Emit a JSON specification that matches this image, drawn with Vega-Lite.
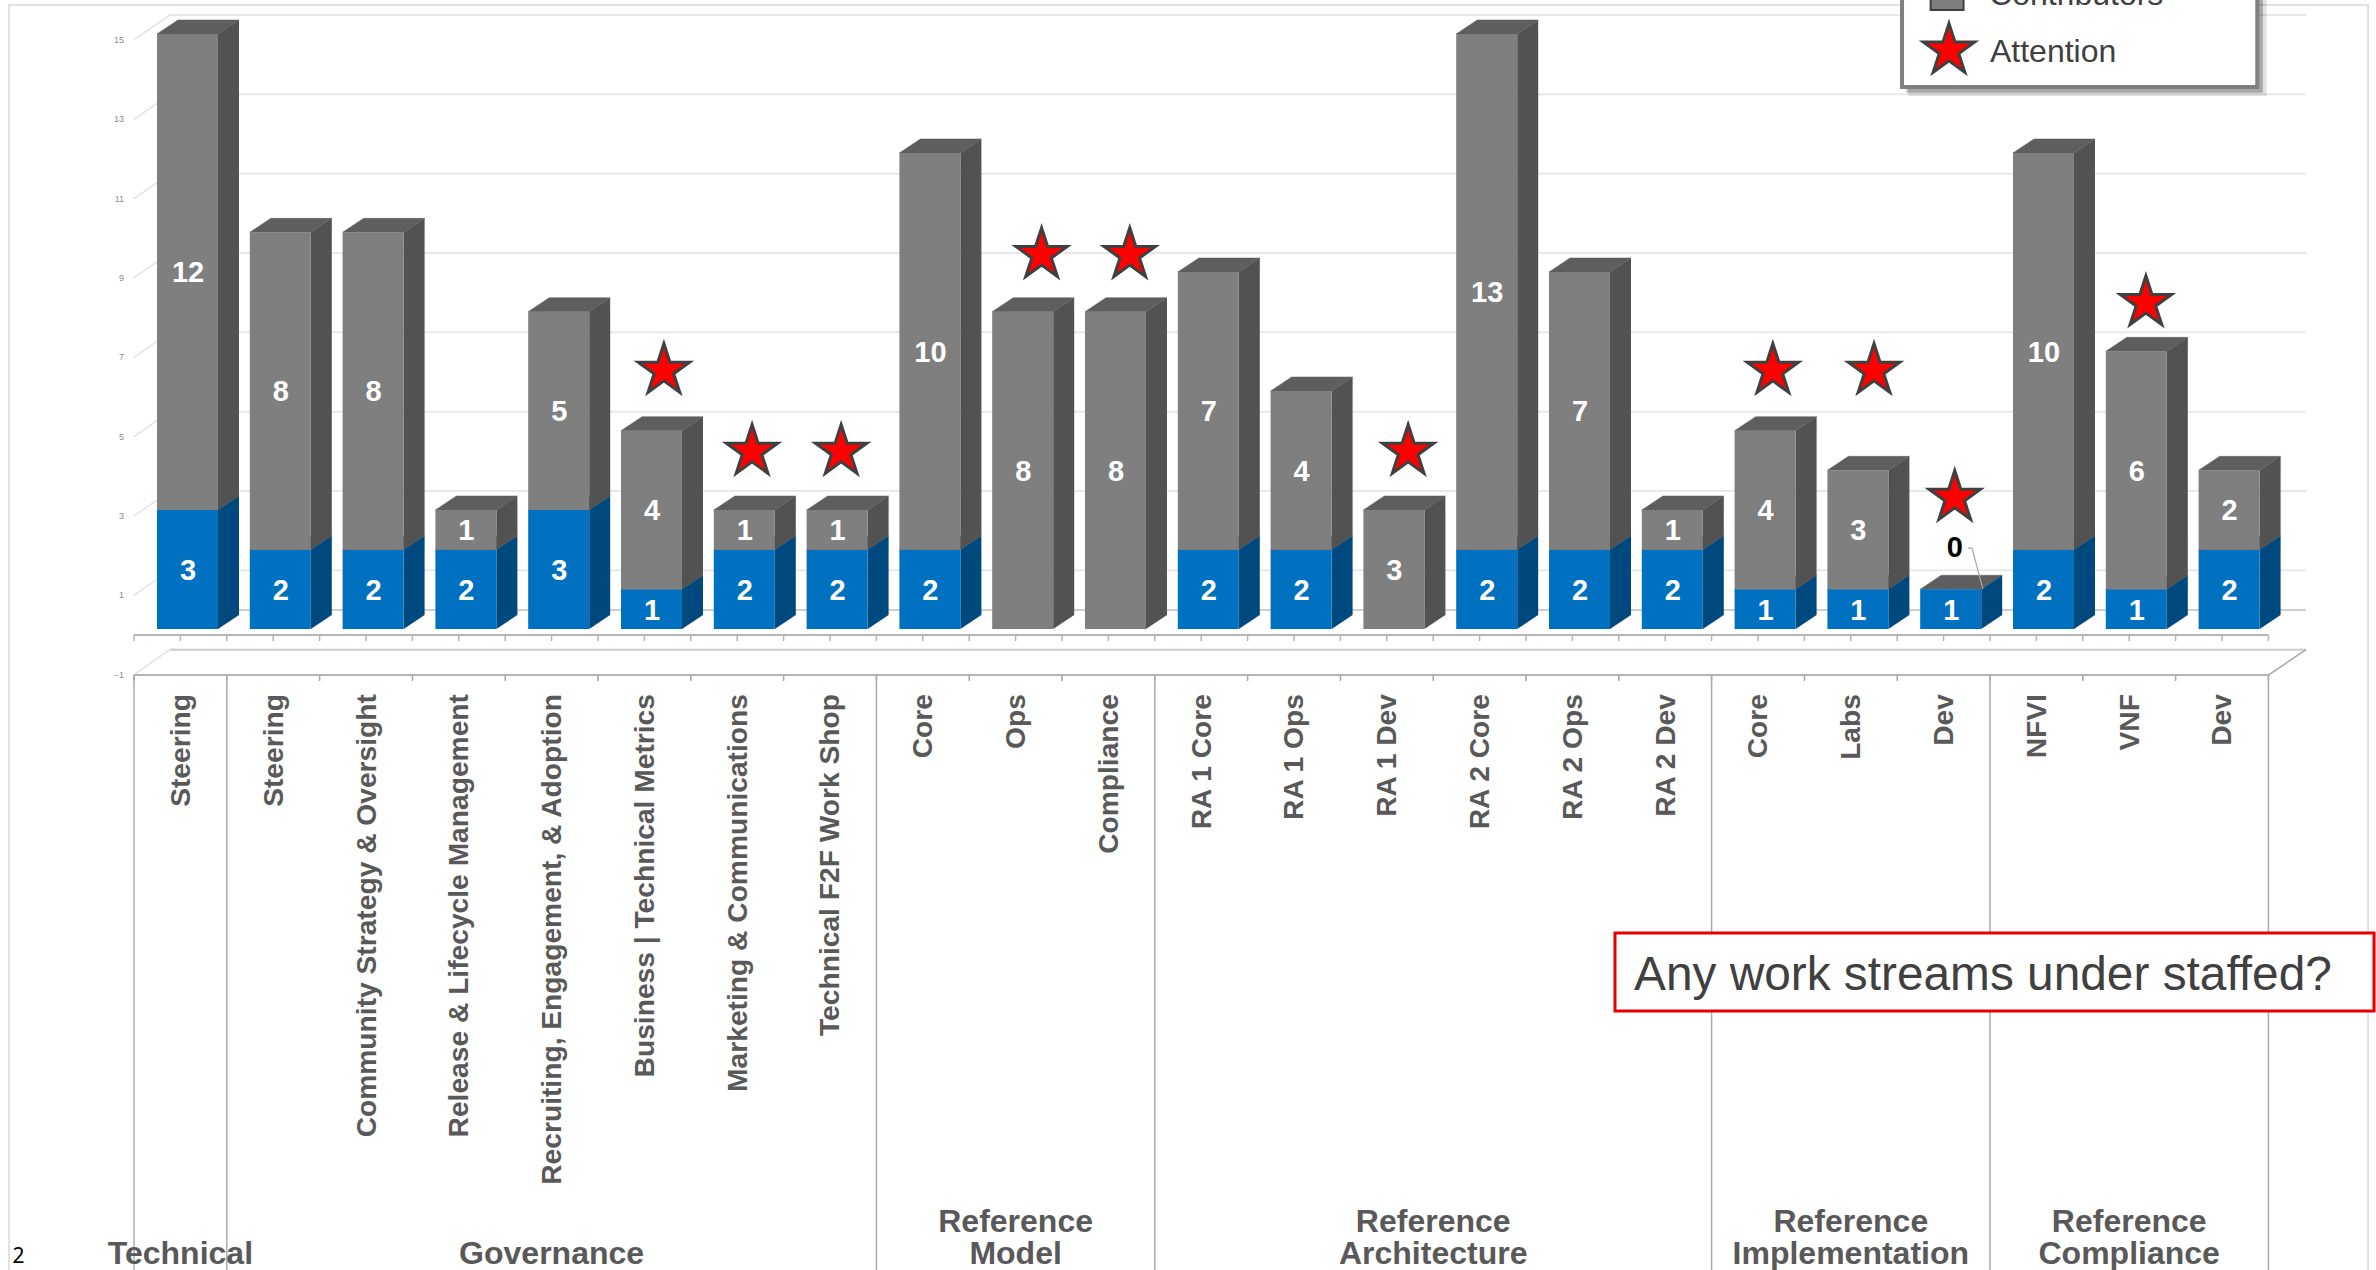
{"$schema":"https://vega.github.io/schema/vega-lite/v6.json","width":2376,"height":1270,"autosize":{"type":"none"},"padding":0,"background":"white",
"config":{"view":{"stroke":null},"font":"Liberation Sans","axis":{"disable":true},"legend":{"disable":true},"scale":{"continuousPadding":0}},
"datasets":{
"segments":[
{"group":"Technical","stream":"Steering","slot":1,"role":"Leads","count":3},{"group":"Technical","stream":"Steering","slot":1,"role":"Contributors","count":12},
{"group":"Governance","stream":"Steering","slot":2,"role":"Leads","count":2},{"group":"Governance","stream":"Steering","slot":2,"role":"Contributors","count":8},
{"group":"Governance","stream":"Community Strategy & Oversight","slot":3,"role":"Leads","count":2},{"group":"Governance","stream":"Community Strategy & Oversight","slot":3,"role":"Contributors","count":8},
{"group":"Governance","stream":"Release & Lifecycle Management","slot":4,"role":"Leads","count":2},{"group":"Governance","stream":"Release & Lifecycle Management","slot":4,"role":"Contributors","count":1},
{"group":"Governance","stream":"Recruiting, Engagement, & Adoption","slot":5,"role":"Leads","count":3},{"group":"Governance","stream":"Recruiting, Engagement, & Adoption","slot":5,"role":"Contributors","count":5},
{"group":"Governance","stream":"Business | Technical Metrics","slot":6,"role":"Leads","count":1},{"group":"Governance","stream":"Business | Technical Metrics","slot":6,"role":"Contributors","count":4},
{"group":"Governance","stream":"Marketing & Communications","slot":7,"role":"Leads","count":2},{"group":"Governance","stream":"Marketing & Communications","slot":7,"role":"Contributors","count":1},
{"group":"Governance","stream":"Technical F2F Work Shop","slot":8,"role":"Leads","count":2},{"group":"Governance","stream":"Technical F2F Work Shop","slot":8,"role":"Contributors","count":1},
{"group":"Reference Model","stream":"Core","slot":9,"role":"Leads","count":2},{"group":"Reference Model","stream":"Core","slot":9,"role":"Contributors","count":10},
{"group":"Reference Model","stream":"Ops","slot":10,"role":"Contributors","count":8},
{"group":"Reference Model","stream":"Compliance","slot":11,"role":"Contributors","count":8},
{"group":"Reference Architecture","stream":"RA 1 Core","slot":12,"role":"Leads","count":2},{"group":"Reference Architecture","stream":"RA 1 Core","slot":12,"role":"Contributors","count":7},
{"group":"Reference Architecture","stream":"RA 1 Ops","slot":13,"role":"Leads","count":2},{"group":"Reference Architecture","stream":"RA 1 Ops","slot":13,"role":"Contributors","count":4},
{"group":"Reference Architecture","stream":"RA 1 Dev","slot":14,"role":"Contributors","count":3},
{"group":"Reference Architecture","stream":"RA 2 Core","slot":15,"role":"Leads","count":2},{"group":"Reference Architecture","stream":"RA 2 Core","slot":15,"role":"Contributors","count":13},
{"group":"Reference Architecture","stream":"RA 2 Ops","slot":16,"role":"Leads","count":2},{"group":"Reference Architecture","stream":"RA 2 Ops","slot":16,"role":"Contributors","count":7},
{"group":"Reference Architecture","stream":"RA 2 Dev","slot":17,"role":"Leads","count":2},{"group":"Reference Architecture","stream":"RA 2 Dev","slot":17,"role":"Contributors","count":1},
{"group":"Reference Implementation","stream":"Core","slot":18,"role":"Leads","count":1},{"group":"Reference Implementation","stream":"Core","slot":18,"role":"Contributors","count":4},
{"group":"Reference Implementation","stream":"Labs","slot":19,"role":"Leads","count":1},{"group":"Reference Implementation","stream":"Labs","slot":19,"role":"Contributors","count":3},
{"group":"Reference Implementation","stream":"Dev","slot":20,"role":"Leads","count":1},{"group":"Reference Implementation","stream":"Dev","slot":20,"role":"Contributors","count":0},
{"group":"Reference Compliance","stream":"NFVI","slot":21,"role":"Leads","count":2},{"group":"Reference Compliance","stream":"NFVI","slot":21,"role":"Contributors","count":10},
{"group":"Reference Compliance","stream":"VNF","slot":22,"role":"Leads","count":1},{"group":"Reference Compliance","stream":"VNF","slot":22,"role":"Contributors","count":6},
{"group":"Reference Compliance","stream":"Dev","slot":23,"role":"Leads","count":2},{"group":"Reference Compliance","stream":"Dev","slot":23,"role":"Contributors","count":2}
],
"attention":[{"stream":"Business | Technical Metrics","slot":6.21,"level":6.58},{"stream":"Marketing & Communications","slot":7.16,"level":4.54},{"stream":"Technical F2F Work Shop","slot":8.12,"level":4.54},{"stream":"Ops","slot":10.28,"level":9.5},{"stream":"Compliance","slot":11.23,"level":9.5},{"stream":"RA 1 Dev","slot":14.23,"level":4.54},{"stream":"Core","slot":18.16,"level":6.58},{"stream":"Labs","slot":19.25,"level":6.58},{"stream":"Dev","slot":20.12,"level":3.38},{"stream":"VNF","slot":22.18,"level":8.29}],
"levels":[{"tick":15,"back":15.479,"front":14.849},{"tick":13,"back":13.479,"front":12.849},{"tick":11,"back":11.479,"front":10.849},{"tick":9,"back":9.479,"front":8.849},{"tick":7,"back":7.479,"front":6.849},{"tick":5,"back":5.479,"front":4.849},{"tick":3,"back":3.479,"front":2.849},{"tick":1,"back":1.479,"front":0.849},{"tick":-1,"back":-0.521,"front":-1.151}],
"floors":[{"tick":0,"back":0.479},{"tick":-1,"back":-0.521}],
"axisLines":[{"at":-0.151},{"at":-1.16}],
"halves":[{"at":0.5},{"at":1},{"at":1.5},{"at":2},{"at":2.5},{"at":3},{"at":3.5},{"at":4},{"at":4.5},{"at":5},{"at":5.5},{"at":6},{"at":6.5},{"at":7},{"at":7.5},{"at":8},{"at":8.5},{"at":9},{"at":9.5},{"at":10},{"at":10.5},{"at":11},{"at":11.5},{"at":12},{"at":12.5},{"at":13},{"at":13.5},{"at":14},{"at":14.5},{"at":15},{"at":15.5},{"at":16},{"at":16.5},{"at":17},{"at":17.5},{"at":18},{"at":18.5},{"at":19},{"at":19.5},{"at":20},{"at":20.5},{"at":21},{"at":21.5},{"at":22},{"at":22.5},{"at":23},{"at":23.5}],
"edges":[{"edge":0.5},{"edge":1.5},{"edge":8.5},{"edge":11.5},{"edge":17.5},{"edge":20.5},{"edge":23.5}],
"leader":[{"along":20.263,"up":2.04},{"along":20.306,"up":2.04},{"along":20.424,"up":1.008}],
"one":[{"item":"decor"}]
},
"layer":[
{"data":{"name":"one"},"mark":{"type":"rect","fill":"white","stroke":"#d9d9d9","strokeWidth":1.5},"encoding":{"x":{"datum":-0.847,"scale":{"domain":[-0.94397,24.6595]}},"x2":{"datum":24.574},"y":{"datum":15.73,"scale":{"domain":[-16.158,15.856]}},"y2":{"datum":-16.5}}},
{"data":{"name":"levels"},"mark":{"type":"rule","color":"#e8e8e8","strokeWidth":2},"encoding":{"x":{"datum":0.888,"scale":{"domain":[-0.94397,24.6595]}},"x2":{"datum":23.905},"y":{"field":"back","type":"quantitative","scale":{"domain":[-16.158,15.856]}}}},
{"data":{"name":"levels"},"mark":{"type":"rule","color":"#e4e4e4","strokeWidth":1.5},"encoding":{"x":{"datum":0.5,"scale":{"domain":[-0.94397,24.6595]}},"x2":{"datum":0.888},"y":{"field":"front","type":"quantitative","scale":{"domain":[-16.158,15.856]}},"y2":{"field":"back"}}},
{"data":{"name":"levels"},"mark":{"type":"text","align":"right","baseline":"middle","fontSize":9,"color":"#8c8c8c"},"encoding":{"x":{"datum":0.392,"scale":{"domain":[-0.94397,24.6595]}},"y":{"field":"front","type":"quantitative","scale":{"domain":[-16.158,15.856]}},"text":{"field":"tick","type":"quantitative"}}},
{"data":{"name":"floors"},"mark":{"type":"rule","color":"#cfcfcf","strokeWidth":2},"encoding":{"x":{"datum":0.888,"scale":{"domain":[-0.94397,24.6595]}},"x2":{"datum":23.905},"y":{"field":"back","type":"quantitative","scale":{"domain":[-16.158,15.856]}}}},
{"data":{"name":"axisLines"},"mark":{"type":"rule","color":"#b5b5b5","strokeWidth":2},"encoding":{"x":{"datum":0.5,"scale":{"domain":[-0.94397,24.6595]}},"x2":{"datum":23.5},"y":{"field":"at","type":"quantitative","scale":{"domain":[-16.158,15.856]}}}},
{"data":{"name":"one"},"mark":{"type":"rule","color":"#a6a6a6","strokeWidth":1.5},"encoding":{"x":{"datum":23.5,"scale":{"domain":[-0.94397,24.6595]}},"x2":{"datum":23.905},"y":{"datum":-1.16,"scale":{"domain":[-16.158,15.856]}},"y2":{"datum":-0.521}}},
{"data":{"name":"halves"},"mark":{"type":"rule","color":"#b5b5b5","strokeWidth":1.5},"encoding":{"x":{"field":"at","type":"quantitative","scale":{"domain":[-0.94397,24.6595]}},"y":{"datum":-0.151,"scale":{"domain":[-16.158,15.856]}},"y2":{"datum":-0.302}}},
{"data":{"name":"halves"},"transform":[{"filter":"datum.at % 1 != 0"}],"mark":{"type":"rule","color":"#a6a6a6","strokeWidth":1.5},"encoding":{"x":{"field":"at","type":"quantitative","scale":{"domain":[-0.94397,24.6595]}},"y":{"datum":-1.16,"scale":{"domain":[-16.158,15.856]}},"y2":{"datum":-1.311}}},
{"data":{"name":"edges"},"mark":{"type":"rule","color":"#ababab","strokeWidth":1.5},"encoding":{"x":{"field":"edge","type":"quantitative","scale":{"domain":[-0.94397,24.6595]}},"y":{"datum":-1.16,"scale":{"domain":[-16.158,15.856]}},"y2":{"datum":-16.158}}},
{"data":{"name":"segments"},"transform":[{"filter":"datum.count>0"}],"mark":{"type":"point","filled":true,"opacity":1,"size":4,"shape":"M-23.4 0L-2.4 -14L58.6 -14L37.6 0Z","fill":"#5e5e5e","stroke":"#5e5e5e","strokeWidth":0.5},"encoding":{"x":{"field":"slot","type":"quantitative","scale":{"domain":[-0.94397,24.6595]}},"y":{"field":"count","type":"quantitative","stack":"zero","scale":{"domain":[-16.158,15.856]}},"detail":{"field":"role"},"order":{"field":"role","sort":"descending"}}},
{"data":{"name":"segments"},"transform":[{"filter":"datum.count>0"}],"mark":{"type":"point","filled":true,"opacity":1,"size":4},"encoding":{"x":{"field":"slot","type":"quantitative","scale":{"domain":[-0.94397,24.6595]}},"y":{"field":"count","type":"quantitative","stack":"zero","scale":{"domain":[-16.158,15.856]}},"detail":{"field":"role"},"order":{"field":"role","sort":"descending"},"fill":{"condition":{"test":"datum.role==='Leads'","value":"#00497f"},"value":"#525252"},"shape":{"field":"count","type":"ordinal","scale":{"domain":[1,2,3,4,5,6,7,8,10,12,13],"range":["M37.6 0L58.6 -14L58.6 25.67L37.6 39.67Z","M37.6 0L58.6 -14L58.6 65.34L37.6 79.34Z","M37.6 0L58.6 -14L58.6 105.01L37.6 119.01Z","M37.6 0L58.6 -14L58.6 144.68L37.6 158.68Z","M37.6 0L58.6 -14L58.6 184.35L37.6 198.35Z","M37.6 0L58.6 -14L58.6 224.02L37.6 238.02Z","M37.6 0L58.6 -14L58.6 263.69L37.6 277.69Z","M37.6 0L58.6 -14L58.6 303.36L37.6 317.36Z","M37.6 0L58.6 -14L58.6 382.7L37.6 396.7Z","M37.6 0L58.6 -14L58.6 462.04L37.6 476.04Z","M37.6 0L58.6 -14L58.6 501.71L37.6 515.71Z"]}}}},
{"data":{"name":"segments"},"transform":[{"filter":"datum.count>0"}],"mark":{"type":"bar","width":61,"xOffset":7.1,"orient":"vertical"},"encoding":{"x":{"field":"slot","type":"quantitative","scale":{"domain":[-0.94397,24.6595]}},"y":{"field":"count","type":"quantitative","stack":"zero","scale":{"domain":[-16.158,15.856]}},"color":{"field":"role","type":"nominal","scale":{"domain":["Leads","Contributors"],"range":["#0070c0","#7f7f7f"]}},"order":{"field":"role","sort":"descending"}}},
{"data":{"name":"segments"},"transform":[{"filter":"datum.count>0"}],"mark":{"type":"text","dx":7.6,"dy":1.5,"fontSize":29,"fontWeight":"bold","color":"white","baseline":"middle","align":"center"},"encoding":{"x":{"field":"slot","type":"quantitative","scale":{"domain":[-0.94397,24.6595]}},"y":{"field":"count","type":"quantitative","stack":"zero","bandPosition":0.5,"scale":{"domain":[-16.158,15.856]}},"detail":{"field":"role"},"order":{"field":"role","sort":"descending"},"text":{"field":"count","type":"quantitative"}}},
{"data":{"name":"segments"},"transform":[{"filter":"datum.count==0"}],"mark":{"type":"text","fontSize":29,"fontWeight":"bold","color":"black","baseline":"middle","align":"center"},"encoding":{"x":{"datum":20.12,"scale":{"domain":[-0.94397,24.6595]}},"y":{"datum":2.04,"scale":{"domain":[-16.158,15.856]}},"text":{"field":"count","type":"quantitative"}}},
{"data":{"name":"leader"},"mark":{"type":"line","color":"#a6a6a6","strokeWidth":1.2},"encoding":{"x":{"field":"along","type":"quantitative","scale":{"domain":[-0.94397,24.6595]}},"y":{"field":"up","type":"quantitative","scale":{"domain":[-16.158,15.856]}}}},
{"data":{"name":"attention"},"mark":{"type":"point","filled":true,"opacity":1,"size":4,"shape":"M0 -24.4L6.05 -5.73L25.68 -5.74L9.8 5.78L15.87 24.44L0 12.9L-15.87 24.44L-9.8 5.78L-25.68 -5.74L-6.05 -5.73Z","fill":"#ff0000","stroke":"#404040","strokeWidth":3},"encoding":{"x":{"field":"slot","type":"quantitative","scale":{"domain":[-0.94397,24.6595]}},"y":{"field":"level","type":"quantitative","scale":{"domain":[-16.158,15.856]}}}},
{"data":{"name":"segments"},"transform":[{"aggregate":[],"groupby":["stream","slot"]}],"mark":{"type":"text","angle":270,"align":"right","baseline":"middle","fontSize":28.2,"fontWeight":"bold","color":"#595959","xOffset":1.5},"encoding":{"x":{"field":"slot","type":"quantitative","scale":{"domain":[-0.94397,24.6595]}},"y":{"datum":-1.64,"scale":{"domain":[-16.158,15.856]}},"text":{"field":"stream","type":"nominal"}}},
{"data":{"name":"segments"},"transform":[{"aggregate":[],"groupby":["group","stream","slot"]},{"aggregate":[{"op":"mean","field":"slot","as":"center"}],"groupby":["group"]},{"filter":"indexof(datum.group,' ')<0"}],"mark":{"type":"text","align":"center","baseline":"alphabetic","fontSize":32,"fontWeight":"bold","color":"#595959"},"encoding":{"x":{"field":"center","type":"quantitative","scale":{"domain":[-0.94397,24.6595]}},"y":{"datum":-16.007,"scale":{"domain":[-16.158,15.856]}},"text":{"field":"group","type":"nominal"}}},
{"data":{"name":"segments"},"transform":[{"aggregate":[],"groupby":["group","stream","slot"]},{"aggregate":[{"op":"mean","field":"slot","as":"center"}],"groupby":["group"]},{"filter":"indexof(datum.group,' ')>=0"}],"mark":{"type":"text","align":"center","baseline":"alphabetic","fontSize":32,"lineHeight":32,"lineBreak":" ","fontWeight":"bold","color":"#595959"},"encoding":{"x":{"field":"center","type":"quantitative","scale":{"domain":[-0.94397,24.6595]}},"y":{"datum":-15.2,"scale":{"domain":[-16.158,15.856]}},"text":{"field":"group","type":"nominal"}}},
{"data":{"name":"one"},"mark":{"type":"rect","fill":"white","stroke":"#e60000","strokeWidth":3},"encoding":{"x":{"datum":16.459,"scale":{"domain":[-0.94397,24.6595]}},"x2":{"datum":24.638},"y":{"datum":-7.663,"scale":{"domain":[-16.158,15.856]}},"y2":{"datum":-9.63}}},
{"data":{"values":[{"note":"Any work streams under staffed?"}]},"mark":{"type":"text","align":"left","baseline":"middle","fontSize":47.8,"color":"#404040"},"encoding":{"x":{"datum":16.664,"scale":{"domain":[-0.94397,24.6595]}},"y":{"datum":-8.74,"scale":{"domain":[-16.158,15.856]}},"text":{"field":"note","type":"nominal"}}},
{"data":{"name":"one"},"mark":{"type":"rect","fill":"#000000","opacity":0.12},"encoding":{"x":{"datum":19.62,"scale":{"domain":[-0.94397,24.6595]}},"x2":{"datum":23.48},"y":{"datum":15.957,"scale":{"domain":[-16.158,15.856]}},"y2":{"datum":13.44}}},
{"data":{"name":"one"},"mark":{"type":"rect","fill":"#000000","opacity":0.25},"encoding":{"x":{"datum":19.6,"scale":{"domain":[-0.94397,24.6595]}},"x2":{"datum":23.44},"y":{"datum":15.957,"scale":{"domain":[-16.158,15.856]}},"y2":{"datum":13.52}}},
{"data":{"name":"one"},"mark":{"type":"rect","fill":"white","stroke":"#7f7f7f","strokeWidth":4},"encoding":{"x":{"datum":19.552,"scale":{"domain":[-0.94397,24.6595]}},"x2":{"datum":23.38},"y":{"datum":15.957,"scale":{"domain":[-16.158,15.856]}},"y2":{"datum":13.663}}},
{"data":{"name":"one"},"mark":{"type":"rect","fill":"#7f7f7f","stroke":"#404040","strokeWidth":2},"encoding":{"x":{"datum":19.86,"scale":{"domain":[-0.94397,24.6595]}},"x2":{"datum":20.215},"y":{"datum":15.957,"scale":{"domain":[-16.158,15.856]}},"y2":{"datum":15.604}}},
{"data":{"values":[{"label":"Attention"}]},"mark":{"type":"point","filled":true,"opacity":1,"size":4,"shape":"M0 -24.4L6.05 -5.73L25.68 -5.74L9.8 5.78L15.87 24.44L0 12.9L-15.87 24.44L-9.8 5.78L-25.68 -5.74L-6.05 -5.73Z","fill":"#ff0000","stroke":"#404040","strokeWidth":3},"encoding":{"x":{"datum":20.058,"scale":{"domain":[-0.94397,24.6595]}},"y":{"datum":14.65,"scale":{"domain":[-16.158,15.856]}}}},
{"data":{"values":[{"label":"Contributors"}]},"mark":{"type":"text","align":"left","baseline":"alphabetic","fontSize":32,"color":"#404040"},"encoding":{"x":{"datum":20.49,"scale":{"domain":[-0.94397,24.6595]}},"y":{"datum":15.72,"scale":{"domain":[-16.158,15.856]}},"text":{"field":"label","type":"nominal"}}},
{"data":{"values":[{"label":"Attention"}]},"mark":{"type":"text","align":"left","baseline":"alphabetic","fontSize":32,"color":"#404040"},"encoding":{"x":{"datum":20.5,"scale":{"domain":[-0.94397,24.6595]}},"y":{"datum":14.3,"scale":{"domain":[-16.158,15.856]}},"text":{"field":"label","type":"nominal"}}},
{"data":{"values":[{"page":"2"}]},"mark":{"type":"text","align":"left","baseline":"alphabetic","fontSize":21,"font":"Noto Sans","color":"#000000"},"encoding":{"x":{"datum":-0.81,"scale":{"domain":[-0.94397,24.6595]}},"y":{"datum":-15.98,"scale":{"domain":[-16.158,15.856]}},"text":{"field":"page","type":"nominal"}}}
]}
